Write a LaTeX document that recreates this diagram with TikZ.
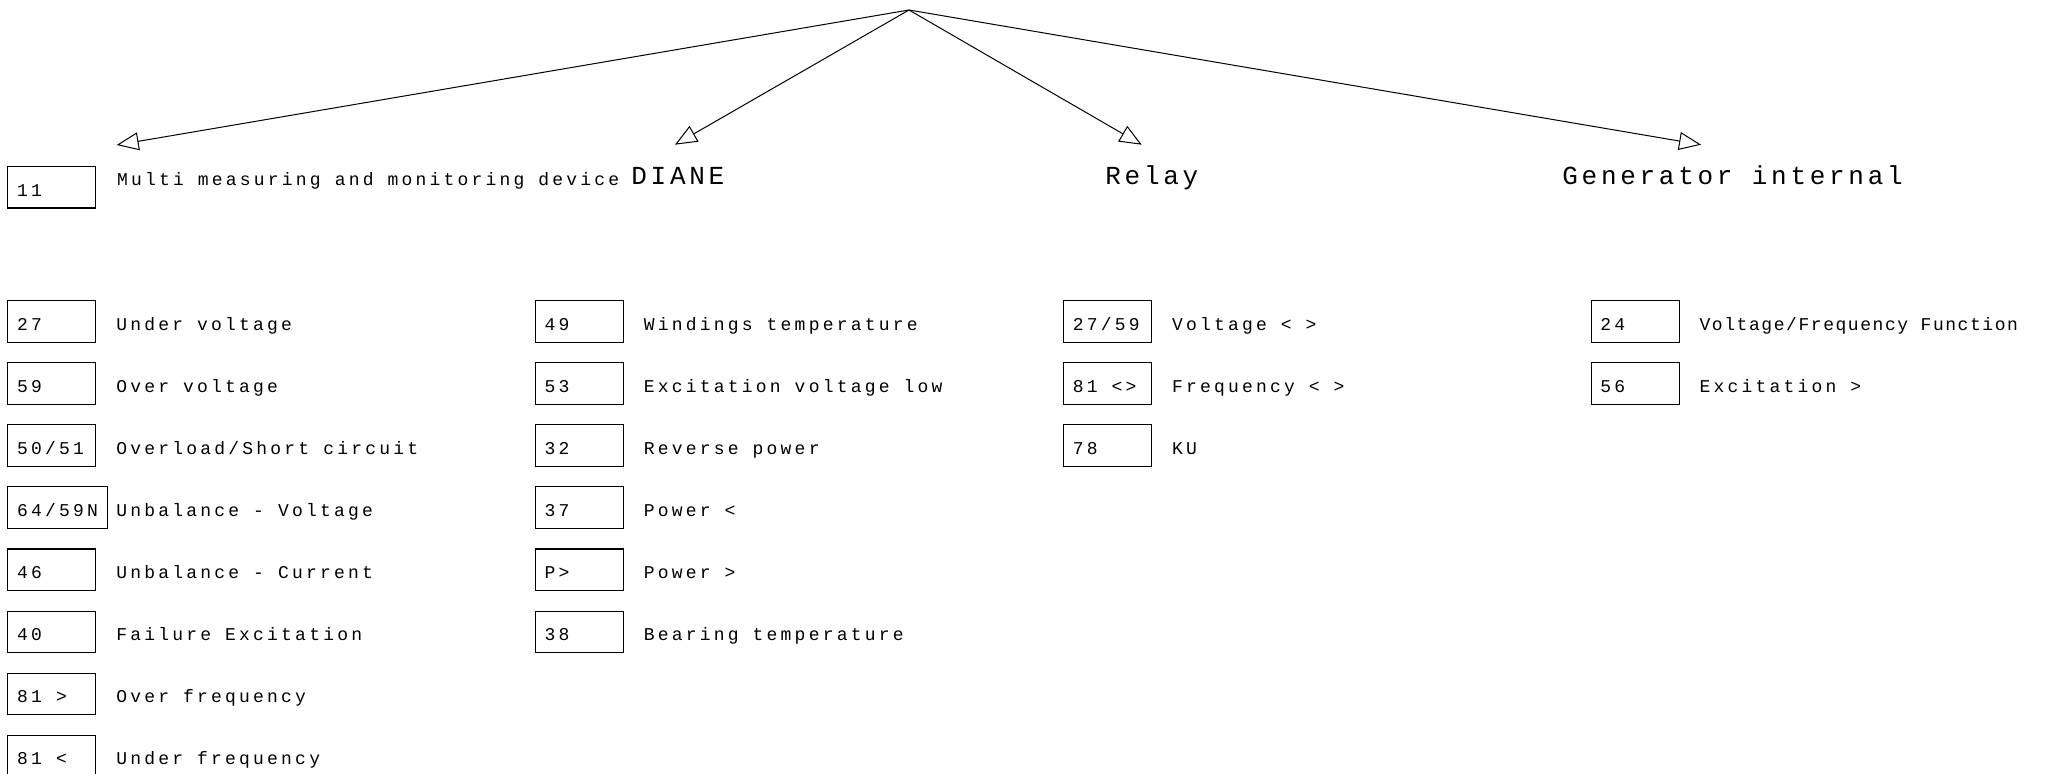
\documentclass[tikz,border=0pt]{standalone}
\usepackage{fontspec}
\setmainfont{Liberation Mono}
\newfontfamily\smallcad[LetterSpace=17.8]{Liberation Mono}
\newfontfamily\narrowcad[LetterSpace=8.7]{Liberation Mono}
\newfontfamily\bigcad[LetterSpace=14.3]{Liberation Mono}
\usetikzlibrary{arrows.meta}
\tikzset{
  box/.style={draw, line width=0.55pt, anchor=north west, inner sep=0pt,
    minimum width=44pt, minimum height=20.85pt},
  widebox/.style={box, minimum width=49.7pt},
  code/.style={anchor=base west, inner sep=0pt, font=\smallcad\fontsize{9}{10}\selectfont},
  lab/.style={anchor=base west, inner sep=0pt, font=\smallcad\fontsize{9}{10}\selectfont},
  narrowlab/.style={lab, font=\narrowcad\fontsize{9}{10}\selectfont},
  head/.style={anchor=base west, inner sep=0pt, font=\bigcad\fontsize{13}{14}\selectfont},
  link/.style={line width=0.5pt, -{Triangle[open, length=11pt, width=9pt]}}
}
\newcommand\entry[7][box]{% [box style] label style, name, x, ytop, code, label
  \node[#1] (#3) at (#4,#5) {};
  \node[code] (#3c) at (#4+9.5,#5+30) {#6};
  \node[#2] (#3l) at (#4+108.7,#5+30) {#7};
}
\begin{document}
\begin{tikzpicture}[x=0.5pt, y=-0.5pt]
\clip (0,0) rectangle (2060,773);
% top structure
\coordinate (top) at (909,10);
\coordinate (t1) at (116.7,145);
\coordinate (t2) at (675,144.7);
\coordinate (t3) at (1141.7,144.7);
\coordinate (t4) at (1701,144.7);
\draw[link] (top) -- (t1);
\draw[link] (top) -- (t2);
\draw[link] (top) -- (t3);
\draw[link] (top) -- (t4);
% headings
\node[box] (b11) at (7.3,165.7) {};
\node[code] (b11c) at (7.3+9.5,196) {11};
\node[lab] (multi) at (116.7,185) {Multi measuring and monitoring device};
\node[head] (diane) at (631,184) {DIANE};
\node[head] (relay) at (1105,184) {Relay};
\node[head] (gen) at (1562,184) {Generator internal};
% column 1
\entry{lab}{a1}{7.3}{300}{27}{Under voltage}
\entry{lab}{a2}{7.3}{362.1}{59}{Over voltage}
\entry{lab}{a3}{7.3}{424.2}{50/51}{Overload/Short circuit}
\entry[widebox]{lab}{a4}{7.3}{486.3}{64/59N}{Unbalance - Voltage}
\entry{lab}{a5}{7.3}{548.4}{46}{Unbalance - Current}
\entry{lab}{a6}{7.3}{610.5}{40}{Failure Excitation}
\entry{lab}{a7}{7.3}{672.6}{81 >}{Over frequency}
\entry{lab}{a8}{7.3}{734.7}{81 <}{Under frequency}
% column 2
\entry{lab}{b1}{534.8}{300}{49}{Windings temperature}
\entry{lab}{b2}{534.8}{362.1}{53}{Excitation voltage low}
\entry{lab}{b3}{534.8}{424.2}{32}{Reverse power}
\entry{lab}{b4}{534.8}{486.3}{37}{Power <}
\entry{lab}{b5}{534.8}{548.4}{P>}{Power >}
\entry{lab}{b6}{534.8}{610.5}{38}{Bearing temperature}
% column 3
\entry{lab}{c1}{1062.9}{300}{27/59}{Voltage < >}
\entry{lab}{c2}{1062.9}{362.1}{81 <>}{Frequency < >}
\entry{lab}{c3}{1062.9}{424.2}{78}{KU}
% column 4
\entry{narrowlab}{d1}{1590.5}{300}{24}{Voltage/Frequency Function}
\entry{lab}{d2}{1590.5}{362.1}{56}{Excitation >}
\end{tikzpicture}
\end{document}
